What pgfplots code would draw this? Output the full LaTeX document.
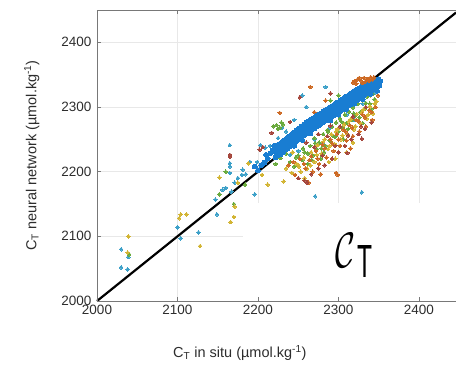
\documentclass[border=0pt]{standalone}
\usepackage{pgfplots}
\pgfplotsset{compat=1.18}
\usepackage{fontspec}
\setmainfont{Liberation Sans}
\definecolor{mblue}{RGB}{25,125,210}
\definecolor{morange}{RGB}{205,105,35}
\definecolor{mgreen}{RGB}{105,170,60}
\definecolor{myellow}{RGB}{210,180,50}
\definecolor{mteal}{RGB}{60,160,200}
\definecolor{mred}{RGB}{165,70,60}
\definecolor{axgray}{RGB}{120,120,120}
\definecolor{txt}{RGB}{45,45,45}
\pgfplotsset{dots/.style={only marks, mark=*, mark size=#1, mark options={line width=0pt}}}
\begin{document}
\begin{tikzpicture}
\begin{axis}[
  scale only axis, width=359pt, height=291pt,
  xmin=2000, xmax=2446, ymin=2000, ymax=2450,
  xtick={2000,2100,2200,2300,2400}, ytick={2000,2100,2200,2300,2400},
  xtick pos=both, ytick pos=left,
  tick align=inside, major tick length=4pt,
  tick style={axgray, line width=0.6pt},
  grid=major, major grid style={gray!18, line width=0.6pt},
  axis line style={draw=none},
  /pgf/number format/assume math mode=true,
  /pgf/number format/1000 sep={},
  tick label style={font=\fontsize{13.5}{16}\selectfont, text=txt},
  yticklabel style={xshift=-2pt},
  xticklabel style={yshift=-1pt},
  label style={font=\fontsize{14.5}{17}\selectfont, text=txt},
  xlabel={C\textsubscript{T} in situ (µmol.kg\textsuperscript{-1})},
  ylabel={C\textsubscript{T} neural network (µmol.kg\textsuperscript{-1})},
  xlabel style={at={(axis description cs:0.398,0)}, anchor=north, yshift=-41pt},
  ylabel style={at={(axis description cs:0,0.5)}, anchor=south, yshift=54pt},
  clip=false,
]
% teal / light blue
\addplot[dots=1.8pt, mteal] coordinates {
(2030,2052)(2038,2049)(2030,2080)(2039,2068)(2100,2114)(2104,2097)
(2126,2106)(2147,2157)(2152,2165)(2156,2172)(2149,2134)(2165,2198)
(2165,2208)(2165,2213)(2165,2241)(2181,2203)(2180,2195)(2171,2183)
(2167,2169)(2196,2165)(2203,2241)(2209,2237)(2199,2215)(2206,2211)
(2255,2318)(2284,2331)(2329,2168)(2271,2162)(2260,2300)(2245,2280)
(2235,2262)(2225,2252)(2215,2240)(2190,2215)(2185,2196)(2250,2232)
(2270,2250)(2290,2268)(2310,2288)(2330,2305)(2345,2322)(2280,2244)
(2300,2262)(2320,2280)(2240,2226)(2175,2190)(2160,2175)(2230,2268)
};
% green
\addplot[dots=1.8pt, mgreen] coordinates {
(2240,2215)(2245,2208)(2250,2225)(2255,2218)(2258,2230)(2262,2212)
(2265,2240)(2268,2225)(2270,2252)(2273,2235)(2276,2245)(2278,2220)
(2281,2258)(2284,2240)(2286,2264)(2289,2248)(2292,2270)(2294,2255)
(2297,2276)(2300,2262)(2302,2282)(2305,2268)(2308,2288)(2310,2275)
(2313,2293)(2316,2280)(2318,2299)(2321,2287)(2324,2305)(2327,2292)
(2330,2310)(2333,2298)(2336,2316)(2339,2305)(2342,2320)(2345,2312)
(2348,2326)(2235,2228)(2228,2221)(2222,2212)(2219,2270)(2223,2272)
(2227,2268)(2231,2273)(2225,2266)(2229,2276)(2300,2318)(2290,2310)
(2152,2165)(2170,2150)(2184,2180)(2040,2072)(2160,2200)
(2262,2228)(2271,2244)(2279,2236)(2287,2262)(2296,2254)(2304,2277)
(2312,2266)(2319,2290)(2326,2284)(2334,2306)(2341,2297)(2247,2222)
(2256,2236)(2267,2218)(2282,2230)(2306,2250)(2330,2275)(2343,2328)
(2337,2322)(2325,2310)
};
% yellow / olive
\addplot[dots=1.8pt, myellow] coordinates {
(2235,2205)(2242,2198)(2248,2212)(2253,2200)(2257,2222)(2261,2205)
(2266,2230)(2270,2215)(2274,2241)(2279,2228)(2283,2250)(2287,2235)
(2291,2258)(2295,2243)(2299,2266)(2303,2250)(2307,2273)(2311,2258)
(2315,2281)(2319,2265)(2323,2289)(2327,2275)(2331,2296)(2335,2282)
(2339,2301)(2343,2290)(2347,2309)(2188,2213)(2171,2146)(2175,2183)
(2152,2191)(2104,2134)(2111,2134)(2039,2100)(2128,2085)(2166,2122)
(2170,2130)(2205,2195)(2212,2180)(2038,2075)(2102,2128)(2232,2185)
(2310,2230)(2288,2215)(2258,2190)
(2265,2210)(2273,2226)(2281,2246)(2289,2240)(2297,2262)(2305,2256)
(2313,2278)(2321,2270)(2329,2292)(2337,2288)(2345,2305)(2243,2230)
(2251,2208)(2296,2220)(2318,2245)(2340,2318)
};
% orange / brown
\addplot[dots=1.8pt, morange] coordinates {
(2238,2210)(2246,2195)(2252,2220)(2259,2205)(2264,2218)(2268,2200)
(2272,2232)(2276,2212)(2280,2242)(2285,2222)(2290,2250)(2294,2232)
(2298,2258)(2302,2240)(2306,2265)(2310,2248)(2314,2272)(2318,2255)
(2322,2280)(2326,2262)(2330,2288)(2334,2270)(2338,2295)(2342,2280)
(2346,2300)(2297,2198)(2299,2195)(2263,2183)
(2284,2310)(2270,2292)(2227,2291)(2265,2331)
(2257,2212)(2266,2224)(2274,2220)(2283,2236)(2292,2244)(2300,2250)
(2309,2262)(2317,2268)(2325,2278)(2333,2284)(2341,2292)(2349,2318)
(2278,2196)(2315,2236)(2244,2215)
};
% dark red
\addplot[dots=1.8pt, mred] coordinates {
(2250,2190)(2258,2186)(2266,2196)(2275,2205)(2283,2210)(2292,2220)
(2300,2230)(2308,2240)(2316,2250)(2325,2258)(2333,2266)(2341,2276)
(2260,2245)(2275,2258)(2290,2271)(2261,2183)(2329,2251)(2311,2229)
(2240,2277)(2252,2315)(2290,2321)(2217,2260)(2206,2238)(2202,2234)
(2165,2226)(2165,2223)
(2270,2238)(2286,2255)(2302,2270)(2318,2285)(2334,2300)(2280,2225)
(2296,2240)(2312,2256)(2328,2270)
};
% dense blue band
\addplot[dots=2.4pt, mblue] coordinates {
(2222,2222)(2222,2230)(2223,2237)(2225,2225)(2226,2233)(2224,2241)
(2228,2227)(2229,2236)(2227,2243)(2231,2230)(2232,2239)(2230,2246)
(2234,2234)(2235,2242)(2233,2249)(2237,2236)(2238,2245)(2236,2252)
(2240,2239)(2241,2248)(2239,2255)(2243,2243)(2244,2251)(2242,2258)
(2246,2245)(2247,2254)(2245,2261)(2249,2249)(2250,2257)(2248,2264)
(2252,2251)(2253,2260)(2251,2267)(2255,2255)(2256,2263)(2254,2270)
(2258,2257)(2259,2266)(2257,2273)(2261,2260)(2262,2269)(2260,2276)
(2264,2262)(2265,2271)(2263,2278)(2267,2265)(2268,2274)(2266,2281)
(2270,2267)(2271,2276)(2269,2283)(2273,2270)(2274,2279)(2272,2286)
(2276,2272)(2277,2281)(2275,2288)(2279,2275)(2280,2284)(2278,2290)
(2282,2277)(2283,2286)(2281,2293)(2285,2279)(2286,2288)(2284,2295)
(2288,2282)(2289,2291)(2287,2297)(2291,2284)(2292,2293)(2290,2300)
(2294,2287)(2295,2296)(2293,2302)(2297,2289)(2298,2298)(2296,2305)
(2300,2292)(2301,2301)(2299,2307)(2303,2294)(2304,2303)(2302,2310)
(2306,2297)(2307,2306)(2305,2312)(2309,2299)(2310,2308)(2308,2315)
(2312,2302)(2313,2311)(2311,2317)(2315,2304)(2316,2313)(2314,2320)
(2318,2307)(2319,2316)(2317,2322)(2321,2309)(2322,2318)(2320,2325)
(2324,2311)(2325,2320)(2323,2327)(2327,2314)(2328,2323)(2326,2329)
(2330,2316)(2331,2325)(2329,2332)(2333,2319)(2334,2328)(2332,2334)
(2336,2321)(2337,2330)(2335,2336)(2339,2324)(2340,2333)(2338,2338)
(2342,2326)(2343,2335)(2341,2340)(2345,2329)(2346,2337)(2344,2341)
(2348,2331)(2349,2339)(2347,2342)(2351,2333)(2352,2340)(2350,2343)
(2226,2238)(2232,2244)(2238,2250)(2244,2256)(2250,2262)(2256,2268)
(2262,2274)(2268,2279)(2274,2284)(2280,2289)(2286,2293)(2292,2298)
(2298,2302)(2304,2307)(2310,2311)(2316,2316)(2322,2321)(2328,2326)
(2334,2331)(2340,2336)(2346,2340)(2275,2276)(2285,2283)(2295,2291)
(2305,2300)(2315,2308)(2325,2316)(2335,2324)(2345,2333)(2265,2259)
(2255,2249)(2245,2240)(2290,2279)(2300,2288)(2310,2297)(2320,2305)
(2330,2312)(2340,2320)(2348,2325)(2212,2220)(2208,2214)(2215,2228)
(2204,2210)(2218,2233)(2200,2202)(2196,2208)(2210,2226)(2220,2240)
};
% orange cluster at the top
\addplot[dots=1.9pt, morange] coordinates {
(2320,2340)(2324,2343)(2328,2341)(2332,2345)(2336,2343)(2340,2346)
(2322,2336)(2330,2337)(2334,2340)(2326,2345)(2338,2341)(2342,2343)
(2318,2338)(2344,2346)
};
% 1:1 line
\addplot[black, line width=2.2pt] coordinates {(2000,2000)(2446,2446)};
% white annotation box
\fill[white] (axis cs:2181,2152) rectangle (axis cs:2446,2001);
\draw[axgray, line width=0.6pt] (axis cs:2200,2000) -- (axis cs:2200,2006);
\draw[axgray, line width=0.6pt] (axis cs:2300,2000) -- (axis cs:2300,2006);
\draw[axgray, line width=0.6pt] (axis cs:2400,2000) -- (axis cs:2400,2006);
\node[anchor=base west, inner sep=0pt] at (axis cs:2295.5,2052.5)
  {\resizebox{20pt}{34pt}{$\mathcal{C}$}};
\node[anchor=base west, inner sep=0pt] at (axis cs:2323,2037)
  {\resizebox{15pt}{32pt}{T}};
% spines
\draw[axgray, line width=0.7pt] (rel axis cs:0,1) -- (rel axis cs:0,0) -- (rel axis cs:1,0);
\draw[axgray, line width=0.7pt] (rel axis cs:0,1) -- (rel axis cs:1,1);
\coordinate (BL) at (rel axis cs:0,0);
\end{axis}
\pgfresetboundingbox
\path (BL) ++(-97pt,-67pt) rectangle ++(456pt,368pt);
\end{tikzpicture}
\end{document}
